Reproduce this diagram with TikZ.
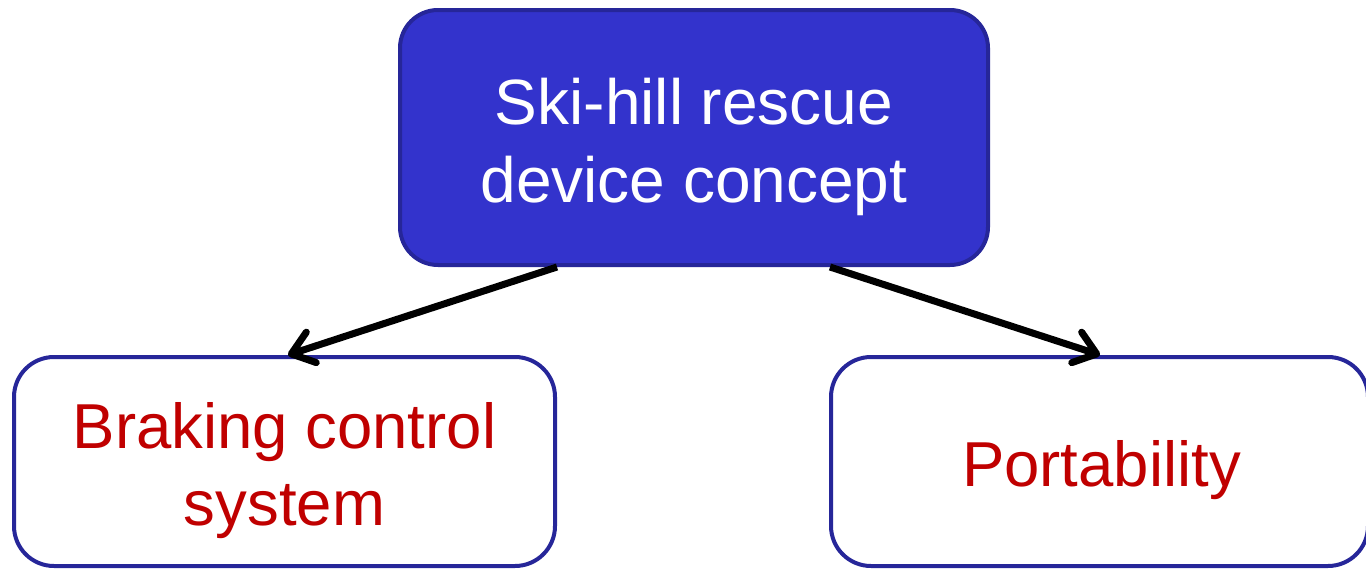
\documentclass[tikz,border=0pt]{standalone}
\usepackage{fontspec}
\setmainfont{Liberation Sans}
\usetikzlibrary{arrows.meta}
\definecolor{boxfill}{HTML}{3333CC}
\definecolor{boxline}{HTML}{262699}
\definecolor{labelred}{HTML}{C00000}
\begin{document}
\begin{tikzpicture}[x=1pt,y=-1pt,
  topbox/.style={draw=boxline, fill=boxfill, line width=4pt, rounded corners=38pt,
    minimum width=588pt, minimum height=255pt, inner sep=0pt},
  subbox/.style={draw=boxline, fill=white, line width=4pt, rounded corners=40pt,
    minimum height=209pt, inner sep=0pt},
  toptext/.style={align=center, text=white, inner sep=0pt,
    font=\fontsize{64}{78}\selectfont},
  subtext/.style={align=center, text=labelred, inner sep=0pt,
    font=\fontsize{63.5}{77}\selectfont},
  link/.style={line width=7pt, -{Straight Barb[length=21pt,width=32pt,round]}}]
  \useasboundingbox (0,0) rectangle (1366,570);
  % boxes
  \node[topbox] (top) at (694,137.5) {};
  \node[subbox, minimum width=541pt] (brake) at (284.5,461.5) {};
  \node[subbox, minimum width=537pt] (port) at (1099.5,461.5) {};
  % box captions
  \node[toptext] (toplbl) at ([yshift=-9pt]top.center) {Ski-hill rescue\\device concept};
  \node[subtext] (brakelbl) at ([yshift=-9pt]brake.center) {Braking control\\system};
  \node[subtext] (portlbl) at ([xshift=2pt,yshift=-9pt]port.center) {Portability};
  % connectors
  \draw[link] ([xshift=-137pt]top.south) -- ([xshift=3.5pt]brake.north);
  \draw[link] ([xshift=136pt]top.south) -- ([xshift=0.5pt]port.north);
\end{tikzpicture}
\end{document}
